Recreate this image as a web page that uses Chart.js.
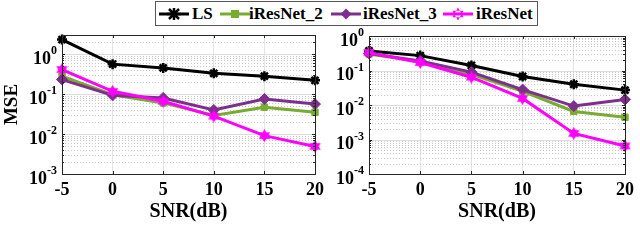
<!DOCTYPE html>
<html>
<head>
<meta charset="utf-8">
<script src="https://cdn.jsdelivr.net/npm/chart.js@4"></script>
<style>
  body { margin: 0; background: #fff; width: 640px; height: 248px; overflow: hidden; position: relative; }
  canvas { position: absolute; top: 0; }
  #legend { position: absolute; left: 155px; top: 1px; width: 381px; height: 23px; border: 1px solid #555; background: #fff;
            font: bold 17px "Liberation Serif", serif; z-index: 5; }
  #legend svg, #legend span { position: absolute; }
  #legend span { top: 1px; line-height: 21px; }
</style>
</head>
<body>
<div id="legend"></div>
<canvas id="left" width="330" height="248" style="left:0"></canvas>
<canvas id="right" width="322" height="248" style="left:318px"></canvas>
<script>
const snr = [-5, 0, 5, 10, 15, 20];
const seriesNames = ["LS", "iResNet_2", "iResNet_3", "iResNet"];

// left panel
const lsLeft = [2.3, 0.56, 0.45, 0.33, 0.28, 0.22];
const net2Left = [0.28, 0.096, 0.06, 0.029, 0.047, 0.035];
const net3Left = [0.23, 0.093, 0.08, 0.04, 0.075, 0.056];
const netLeft = [0.41, 0.117, 0.066, 0.028, 0.0091, 0.0049];

// right panel
const lsRight = [0.37, 0.27, 0.14, 0.067, 0.04, 0.027];
const net2Right = [0.30, 0.18, 0.077, 0.025, 0.0065, 0.0044];
const net3Right = [0.31, 0.19, 0.09, 0.028, 0.0093, 0.0145];
const netRight = [0.33, 0.17, 0.064, 0.0155, 0.0015, 0.00065];

const colores = ["#000000", "#77ac30", "#7e2f8e", "#ff00ff"];
const fuente = '"Liberation Serif", serif';

function hexagrama(color, size) {
  const c = document.createElement("canvas");
  c.width = size; c.height = size;
  const g = c.getContext("2d");
  const r = size / 2, cx = size / 2, cy = size / 2;
  g.fillStyle = color;
  [-Math.PI / 2, Math.PI / 2].forEach(a0 => {
    g.beginPath();
    for (let k = 0; k < 3; k++) {
      const a = a0 + k * 2 * Math.PI / 3;
      g.lineTo(cx + r * Math.cos(a), cy + r * Math.sin(a));
    }
    g.closePath();
    g.fill();
  });
  return c;
}

const estilos = [
  { pointStyle: "star", pointRadius: 5, pointBorderWidth: 2.5 },
  { pointStyle: "rect", pointRadius: 4.5, pointBorderWidth: 1 },
  { pointStyle: "rectRot", pointRadius: 5.5, pointBorderWidth: 1 },
  { pointStyle: hexagrama("#ff00ff", 13), pointRadius: 6, pointBorderWidth: 1 }
];

function armarDatasets(series) {
  return series.map((valores, i) => ({
    label: seriesNames[i],
    data: snr.map((x, j) => ({ x: x, y: valores[j] })),
    borderColor: colores[i],
    backgroundColor: colores[i],
    pointBackgroundColor: colores[i],
    pointBorderColor: colores[i],
    borderWidth: 3,
    order: 4 - i,
    clip: false,
    ...estilos[i]
  }));
}

const esDecada = v => Math.abs(Math.log10(v) - Math.round(Math.log10(v))) < 1e-9;

// grilla, marco y etiquetas tipo MATLAB
const marcoMatlab = {
  id: "marcoMatlab",
  beforeDatasetsDraw(chart) {
    const { ctx, chartArea: a, scales } = chart;
    const y = scales.y;
    const lo = Math.round(Math.log10(y.min)), hi = Math.ceil(Math.log10(y.max));
    ctx.save();
    ctx.lineWidth = 1;
    for (let d = lo; d <= hi; d++) {
      for (let m = 1; m <= 9; m++) {
        const v = m * Math.pow(10, d);
        if (v < y.min * 0.999 || v > y.max * 1.001) continue;
        const py = Math.round(y.getPixelForValue(v)) + 0.5;
        if (m === 1) { ctx.setLineDash([]); ctx.strokeStyle = "#dcdcdc"; }
        else { ctx.setLineDash([1, 2]); ctx.strokeStyle = "#c8c8c8"; }
        ctx.beginPath(); ctx.moveTo(a.left, py); ctx.lineTo(a.right, py); ctx.stroke();
      }
    }
    ctx.restore();
  },
  afterDraw(chart) {
    const { ctx, chartArea: a, scales } = chart;
    const y = scales.y, x = scales.x;
    ctx.save();
    ctx.strokeStyle = "#262626";
    ctx.lineWidth = 1;
    ctx.strokeRect(Math.round(a.left) + 0.5, Math.round(a.top) + 0.5, Math.round(a.right - a.left), Math.round(a.bottom - a.top));
    // ticks hacia adentro
    ctx.beginPath();
    x.ticks.forEach(t => {
      const px = Math.round(x.getPixelForValue(t.value)) + 0.5;
      ctx.moveTo(px, a.bottom); ctx.lineTo(px, a.bottom - 3);
      ctx.moveTo(px, a.top); ctx.lineTo(px, a.top + 3);
    });
    const lo = Math.round(Math.log10(y.min)), hi = Math.ceil(Math.log10(y.max));
    for (let d = lo; d <= hi; d++) {
      for (let m = 1; m <= 9; m++) {
        const v = m * Math.pow(10, d);
        if (v < y.min * 0.999 || v > y.max * 1.001) continue;
        const py = Math.round(y.getPixelForValue(v)) + 0.5;
        const len = m === 1 ? 3 : 2;
        ctx.moveTo(a.left, py); ctx.lineTo(a.left + len, py);
        ctx.moveTo(a.right, py); ctx.lineTo(a.right - len, py);
      }
    }
    ctx.stroke();
    // etiquetas 10^n
    ctx.fillStyle = "#000";
    for (let d = lo; d <= hi; d++) {
      const v = Math.pow(10, d);
      if (v < y.min * 0.999 || v > y.max * 1.001) continue;
      const py = y.getPixelForValue(v);
      const exp = String(d).replace("-", "-");
      ctx.font = "bold 12px " + fuente;
      const wExp = ctx.measureText(exp).width;
      const xFin = a.left - 5;
      ctx.textAlign = "left";
      ctx.textBaseline = "middle";
      ctx.fillText(exp, xFin - wExp, py - 3);
      ctx.font = "bold 18px " + fuente;
      ctx.textAlign = "right";
      ctx.fillText("10", xFin - wExp, py + 5);
    }
    ctx.restore();
  }
};

function crearPanel(canvasId, series, yMin, yMax, anchoY, relleno, conTitulo) {
  return new Chart(document.getElementById(canvasId), {
    type: "line",
    data: { datasets: armarDatasets(series) },
    options: {
      responsive: false,
      animation: false,
      layout: { padding: relleno },
      plugins: { legend: { display: false }, tooltip: { enabled: false } },
      scales: {
        x: {
          type: "linear", min: -5, max: 20,
          ticks: { stepSize: 5, color: "#000", font: { family: fuente, size: 18, weight: "bold" }, padding: 6, maxRotation: 0 },
          grid: { color: "#e3e3e3", drawTicks: false },
          border: { display: false },
          title: { display: true, text: "SNR(dB)", color: "#000", font: { family: fuente, size: 20, weight: "bold" }, padding: { top: 0, bottom: 24 } },
          afterFit(s) { s.height = 74; }
        },
        y: {
          type: "logarithmic", min: yMin, max: yMax,
          ticks: { display: false, autoSkip: false },
          grid: { display: false },
          border: { display: false },
          title: { display: conTitulo, text: "MSE", color: "#000", font: { family: fuente, size: 19, weight: "bold" }, padding: { top: 1, bottom: 0 } },
          afterFit(s) { s.width = anchoY; }
        }
      }
    },
    plugins: [marcoMatlab]
  });
}

crearPanel("left", [lsLeft, net2Left, net3Left, netLeft], 0.001, 3, 62, { top: 35, right: 7, left: 0, bottom: 0 }, true);
crearPanel("right", [lsRight, net2Right, net3Right, netRight], 0.0001, 1, 51, { top: 36, right: 8, left: 0, bottom: 0 }, false);

// leyenda compartida
const legend = document.getElementById("legend");
const posLinea = [3, 64, 175, 287];
const posTexto = [36, 93, 207, 320];
const marcadores = [
  '<path d="M10 2 L20 12 M20 2 L10 12 M15 1 L15 13 M8 7 L22 7" stroke="#000" stroke-width="2.5"/>',
  '<rect x="11" y="3" width="8" height="8" fill="#77ac30"/>',
  '<path d="M15 1.5 L20.5 7 L15 12.5 L9.5 7 Z" fill="#7e2f8e"/>',
  '<path d="M15 0.5 L20.6 10.2 L9.4 10.2 Z M15 13.5 L20.6 3.8 L9.4 3.8 Z" fill="#ff00ff"/>'
];
seriesNames.forEach((nombre, i) => {
  const svg = '<svg width="30" height="14" style="left:' + posLinea[i] + 'px;top:5px">' +
    '<line x1="0" y1="7" x2="30" y2="7" stroke="' + colores[i] + '" stroke-width="3"/>' + marcadores[i] + '</svg>';
  legend.insertAdjacentHTML("beforeend", svg + '<span style="left:' + posTexto[i] + 'px">' + nombre + '</span>');
});
</script>
</body>
</html>
